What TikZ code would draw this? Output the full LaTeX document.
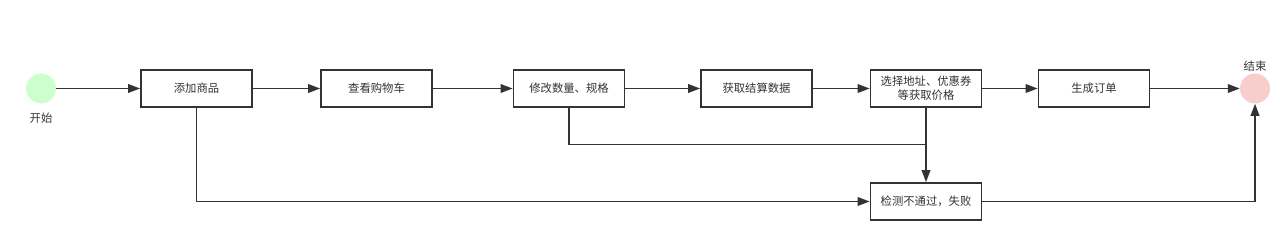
\documentclass[tikz,border=0pt]{standalone}
\usepackage{fontspec}
\setmainfont{Noto Sans CJK SC}
\usetikzlibrary{arrows.meta}
\definecolor{linegray}{HTML}{333333}
\definecolor{startgreen}{HTML}{CCFFCC}
\definecolor{endpink}{HTML}{F8CECC}

\begin{document}
\begin{tikzpicture}[x=0.75pt, y=-0.75pt,
	box/.style={draw=linegray, line width=1.1pt, minimum width=83.5pt, minimum height=28pt, inner sep=1pt, align=center, text=linegray, font=\fontsize{8.5}{10.5}\selectfont},
	dot/.style={circle, minimum size=22.5pt, inner sep=0pt},
	tag/.style={text=linegray, font=\fontsize{8.5}{10.5}\selectfont},
	flow/.style={draw=linegray, line width=1.1pt, -{Triangle[length=9pt,width=6.5pt]}},
	link/.style={draw=linegray, line width=1.1pt}]
	\useasboundingbox (0,0) rectangle (1280,239);
	\node[dot, fill=startgreen] (start) at (41,88.5) {};
	\node[tag] (startlbl) at (41,118) {开始};
	\node[box] (add) at (196.5,88.5) {添加商品};
	\node[box] (cart) at (376.5,88.5) {查看购物车};
	\node[box] (edit) at (569,88.5) {修改数量、规格};
	\node[box] (settle) at (756.5,88.5) {获取结算数据};
	\node[box] (price) at (926,88.5) {选择地址、优惠券\\等获取价格};
	\node[box] (order) at (1094,88.5) {生成订单};
	\node[dot, fill=endpink] (end) at (1255,88.5) {};
	\node[tag] (endlbl) at (1255,66) {结束};
	\node[box] (fail) at (926,201.5) {检测不通过，失败};
	\coordinate (join) at (926,144.5);
	\draw[flow] (start) -- (add);
	\draw[flow] (add) -- (cart);
	\draw[flow] (cart) -- (edit);
	\draw[flow] (edit) -- (settle);
	\draw[flow] (settle) -- (price);
	\draw[flow] (price) -- (order);
	\draw[flow] (order) -- (end);
	\draw[link] (edit.south) |- (join);
	\draw[flow] (price) -- (fail);
	\draw[flow] (add.south) |- (fail.west);
	\draw[flow] (fail.east) -| (end.south);
\end{tikzpicture}
\end{document}
